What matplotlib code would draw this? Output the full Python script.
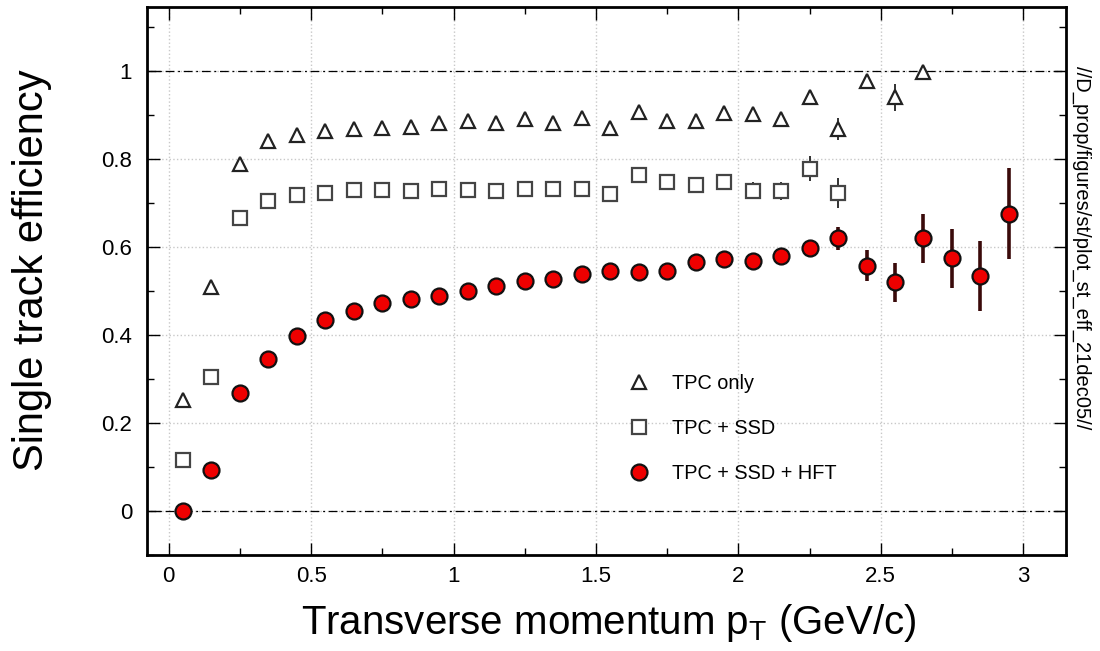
import numpy as np
import matplotlib.pyplot as plt

# bin centres in pT (GeV/c)
pt = np.arange(0.05, 3.0, 0.1)

tpc_only = [0.252, 0.509, 0.788, 0.841, 0.855, 0.864, 0.869, 0.871, 0.873, 0.883,
            0.887, 0.883, 0.890, 0.883, 0.894, 0.871, 0.907, 0.887, 0.887, 0.905,
            0.902, 0.890, 0.941, 0.868, 0.977, 0.940, 0.998]
tpc_only_err = [0.003, 0.004, 0.004, 0.004, 0.004, 0.004, 0.004, 0.004, 0.005, 0.005,
                0.005, 0.006, 0.006, 0.007, 0.007, 0.008, 0.008, 0.009, 0.010, 0.011,
                0.012, 0.013, 0.016, 0.025, 0.012, 0.030, 0.0]

tpc_ssd = [0.117, 0.305, 0.667, 0.705, 0.719, 0.724, 0.729, 0.729, 0.728, 0.732,
           0.729, 0.728, 0.732, 0.732, 0.732, 0.720, 0.763, 0.747, 0.741, 0.748,
           0.728, 0.728, 0.778, 0.722]
tpc_ssd_err = [0.003, 0.004, 0.005, 0.005, 0.005, 0.005, 0.005, 0.006, 0.006, 0.006,
               0.007, 0.007, 0.008, 0.008, 0.009, 0.010, 0.010, 0.011, 0.012, 0.013,
               0.019, 0.020, 0.028, 0.034]

tpc_ssd_hft = [0.000, 0.093, 0.268, 0.346, 0.397, 0.435, 0.456, 0.472, 0.482, 0.490,
               0.500, 0.512, 0.522, 0.528, 0.539, 0.546, 0.543, 0.546, 0.567, 0.573,
               0.569, 0.580, 0.599, 0.620, 0.558, 0.520, 0.620, 0.575, 0.535, 0.676]
tpc_ssd_hft_err = [0.002, 0.004, 0.005, 0.005, 0.006, 0.006, 0.006, 0.007, 0.007, 0.008,
                   0.008, 0.009, 0.009, 0.010, 0.010, 0.011, 0.012, 0.013, 0.013, 0.014,
                   0.014, 0.015, 0.015, 0.026, 0.036, 0.045, 0.055, 0.067, 0.080, 0.104]

labels = ["TPC only", "TPC + SSD", "TPC + SSD + HFT"]
stamp = "//D_prop/figures/st/plot_st_eff_21dec05//"

plt.rcParams['font.family'] = ['Liberation Sans', 'DejaVu Sans']

fig = plt.figure(figsize=(11, 6.51), dpi=100)
ax = fig.add_axes([0.134, 0.147, 0.835, 0.842])

e1 = ax.errorbar(pt[:len(tpc_only)], tpc_only, yerr=tpc_only_err, fmt='^', ms=10,
                 mfc='white', mec='#222222', mew=1.6, ecolor='#222222', elinewidth=1.3,
                 capsize=0, zorder=3)
e2 = ax.errorbar(pt[:len(tpc_ssd)], tpc_ssd, yerr=tpc_ssd_err, fmt='s', ms=9.5,
                 mfc='white', mec='#444444', mew=1.6, ecolor='#222222', elinewidth=1.3,
                 capsize=0, zorder=3)
e3 = ax.errorbar(pt, tpc_ssd_hft, yerr=tpc_ssd_hft_err, fmt='o', ms=11.5,
                 mfc='#ee0000', mec='#111111', mew=1.6, ecolor='#3a0a0a', elinewidth=2.6,
                 capsize=0, zorder=4)

for yv in (0, 1):
    ax.axhline(yv, color='black', lw=0.9, dashes=(7, 3, 1.5, 3), zorder=2)

ax.set_xlim(-0.075, 3.15)
ax.set_ylim(-0.1, 1.145)
ax.set_xticks(np.arange(0, 3.01, 0.5))
ax.set_xticklabels(['0', '0.5', '1', '1.5', '2', '2.5', '3'])
ax.set_xticks(np.arange(0, 3.01, 0.25), minor=True)
ax.set_yticks(np.arange(0, 1.01, 0.2))
ax.set_yticklabels(['0', '0.2', '0.4', '0.6', '0.8', '1'])
ax.set_yticks(np.arange(-0.1, 1.11, 0.1), minor=True)
ax.grid(True, which='major', color='#c8c8c8', ls=':', lw=1.0, zorder=0)
ax.tick_params(which='both', direction='in', top=True, right=True, width=1.0,
               labelsize=16)
ax.tick_params(axis='x', which='major', pad=8)
ax.tick_params(axis='y', which='major', pad=11)
ax.tick_params(which='major', length=9)
ax.tick_params(which='minor', length=5)
for sp in ax.spines.values():
    sp.set_linewidth(2.0)

ax.set_xlabel('Transverse momentum p$_\\mathregular{T}$ (GeV/c)', fontsize=29)
ax.set_ylabel('Single track efficiency', fontsize=30)
ax.xaxis.set_label_coords(0.502, -0.085)
ax.yaxis.set_label_coords(-0.104, 0.52)

# markers only in the legend, no error-bar stubs
ax.legend([e1[0], e2[0], e3[0]], labels, loc='upper left',
          bbox_to_anchor=(0.505, 0.346), frameon=False, fontsize=14.3,
          labelspacing=1.32, handletextpad=0.65, borderaxespad=0)

fig.text(0.983, 0.62, stamp, rotation=270, ha='center', va='center', fontsize=14.5)

fig.savefig('out.png', dpi=100)
